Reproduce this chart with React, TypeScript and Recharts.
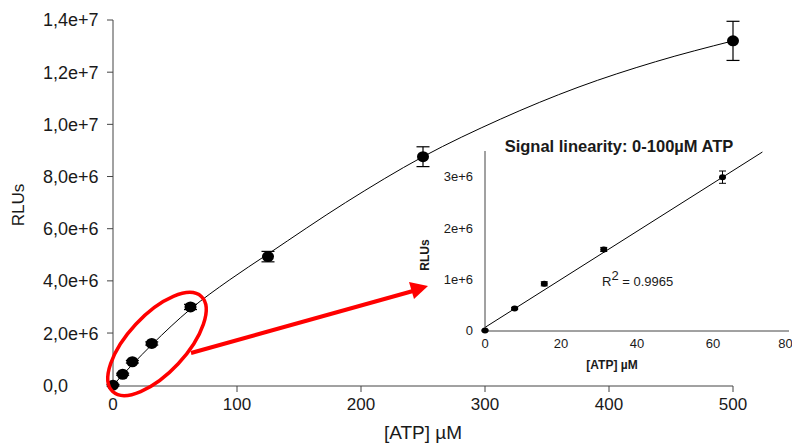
import React from 'react'
import {
  ComposedChart,
  Line,
  Scatter,
  ErrorBar,
  XAxis,
  YAxis,
} from 'recharts'

// main plot: mean RLUs per ATP concentration
const atpConc = [0, 7.8, 15.6, 31.25, 62.5, 125, 250, 500]
const rluMean = [0, 0.42e6, 0.9e6, 1.6e6, 3.0e6, 4.93e6, 8.76e6, 13.2e6]
const rluSd = [0.03e6, 0.04e6, 0.05e6, 0.06e6, 0.1e6, 0.2e6, 0.38e6, 0.75e6]

// fitted saturation curve
const curveX = [0, 31.25, 62.5, 93.75, 125, 187.5, 250, 312.5, 375, 437.5, 500]
const curveY = [0, 1.55e6, 2.92e6, 4.03e6, 5.03e6, 7.0e6, 8.76e6, 10.2e6, 11.42e6, 12.4e6, 13.2e6]

const xTicks = [0, 100, 200, 300, 400, 500]
const yTicks = [0, 2e6, 4e6, 6e6, 8e6, 10e6, 12e6, 14e6]
const yTickLabels = ['0,0', '2,0e+6', '4,0e+6', '6,0e+6', '8,0e+6', '1,0e+7', '1,2e+7', '1,4e+7']

// inset: linear range
const insetX = [0, 7.8, 15.6, 31.25, 62.5]
const insetY = [0, 0.43e6, 0.91e6, 1.58e6, 2.99e6]
const insetSd = [0.01e6, 0.02e6, 0.04e6, 0.04e6, 0.12e6]
const fitX = [0, 73]
const fitY = [0.06e6, 3.48e6]
const insetXTicks = [0, 20, 40, 60, 80]
const insetYTicks = [0, 1e6, 2e6, 3e6]
const insetYLabels = ['0', '1e+6', '2e+6', '3e+6']

const FONT = 'Arial, "Liberation Sans", sans-serif'
const AXIS = '#444'
const TXT = '#1a1a1a'

const mainPoints = atpConc.map((x, i) => ({ x, y: rluMean[i], err: rluSd[i] }))
const mainCurve = curveX.map((x, i) => ({ x, y: curveY[i] }))
const insetPoints = insetX.map((x, i) => ({ x, y: insetY[i], err: insetSd[i] }))
const insetFit = fitX.map((x, i) => ({ x, y: fitY[i] }))

// eslint-disable-next-line @typescript-eslint/no-explicit-any
const BigDot = (p: any) => <ellipse cx={p.cx} cy={p.cy} rx={6} ry={5.5} fill="#000" />
// eslint-disable-next-line @typescript-eslint/no-explicit-any
const SmallDot = (p: any) => <ellipse cx={p.cx} cy={p.cy} rx={3.5} ry={3} fill="#000" />

// y tick labels in the original are left aligned
// eslint-disable-next-line @typescript-eslint/no-explicit-any
function LeftTick({ y, index }: any) {
  return (
    <text x={43} y={y} dy="0.36em" textAnchor="start" fill={TXT} fontSize={18} fontFamily={FONT}>
      {yTickLabels[index]}
    </text>
  )
}

export default function App() {
  return (
    <div style={{ position: 'absolute', left: 0, top: 0, width: 792, height: 444, fontFamily: FONT, background: '#fff' }}>
      <div style={{ position: 'absolute', left: 0, top: 0 }}>
        <ComposedChart width={792} height={444} margin={{ top: 20, right: 59, bottom: 0, left: 0 }}>
          <XAxis
            type="number"
            dataKey="x"
            domain={[0, 500]}
            ticks={xTicks}
            height={58}
            stroke={AXIS}
            tickSize={6}
            tickMargin={6}
            tick={{ fill: TXT, fontSize: 17, fontFamily: FONT }}
            label={{ value: '[ATP] µM', position: 'insideBottom', offset: 5, fill: TXT, fontSize: 19, fontFamily: FONT }}
          />
          <YAxis
            type="number"
            domain={[0, 14e6]}
            ticks={yTicks}
            width={113}
            stroke={AXIS}
            tickSize={6}
            tick={<LeftTick />}
            label={{
              content: () => (
                <text x={18} y={205} transform="rotate(-90, 18, 205)" textAnchor="middle" dominantBaseline="central" fill={TXT} fontSize={17} fontFamily={FONT}>
                  RLUs
                </text>
              ),
            }}
          />
          <Line data={mainCurve} dataKey="y" type="monotone" dot={false} stroke="#000" strokeWidth={1} isAnimationActive={false} />
          <Scatter data={mainPoints} dataKey="y" shape={BigDot} isAnimationActive={false}>
            <ErrorBar dataKey="err" direction="y" width={6.5} stroke="#000" strokeWidth={1.2} />
          </Scatter>
        </ComposedChart>
      </div>

      <div style={{ position: 'absolute', left: 420, top: 130 }}>
        <ComposedChart width={372} height={250} margin={{ top: 21, right: 3, bottom: 0, left: 0 }}>
          <XAxis
            type="number"
            dataKey="x"
            domain={[0, 80]}
            ticks={insetXTicks}
            height={49}
            stroke={AXIS}
            tickLine={false}
            tickMargin={2}
            tick={{ fill: TXT, fontSize: 13, fontFamily: FONT }}
          />
          <YAxis
            type="number"
            domain={[0, 3.5e6]}
            ticks={insetYTicks}
            width={65}
            stroke={AXIS}
            tickLine={false}
            tickMargin={6}
            tickFormatter={(_v: number, i: number) => insetYLabels[i]}
            tick={{ fill: TXT, fontSize: 13, fontFamily: FONT }}
          />
          <Line data={insetFit} dataKey="y" type="linear" dot={false} stroke="#000" strokeWidth={1} isAnimationActive={false} />
          <Scatter data={insetPoints} dataKey="y" shape={SmallDot} isAnimationActive={false}>
            <ErrorBar dataKey="err" direction="y" width={3.5} stroke="#000" strokeWidth={1} />
          </Scatter>
        </ComposedChart>
      </div>

      <svg width={792} height={444} style={{ position: 'absolute', left: 0, top: 0, pointerEvents: 'none' }}>
        <text x={619} y={146} textAnchor="middle" dominantBaseline="central" fontWeight="bold" fontSize={16.5} fontFamily={FONT} fill={TXT}>
          Signal linearity: 0-100µM ATP
        </text>
        <text x={425} y={255} transform="rotate(-90, 425, 255)" textAnchor="middle" dominantBaseline="central" fontWeight="bold" fontSize={12} fontFamily={FONT} fill={TXT}>
          RLUs
        </text>
        <text x={612} y={365} textAnchor="middle" dominantBaseline="central" fontWeight="bold" fontSize={12} fontFamily={FONT} fill={TXT}>
          [ATP] µM
        </text>
        <text x={602} y={286} fontSize={13} fontFamily={FONT} fill={TXT}>
          R<tspan dy={-6} fontSize={13}>2</tspan>
          <tspan dy={6}> = 0.9965</tspan>
        </text>
        <ellipse cx={157} cy={344} rx={65} ry={29} transform="rotate(-47, 157, 344)" fill="none" stroke="#ff0000" strokeWidth={3.5} />
        <line x1={191} y1={353} x2={413} y2={291} stroke="#ff0000" strokeWidth={4} />
        <polygon points="428,286 409,282 414,299" fill="#ff0000" />
      </svg>
    </div>
  )
}
